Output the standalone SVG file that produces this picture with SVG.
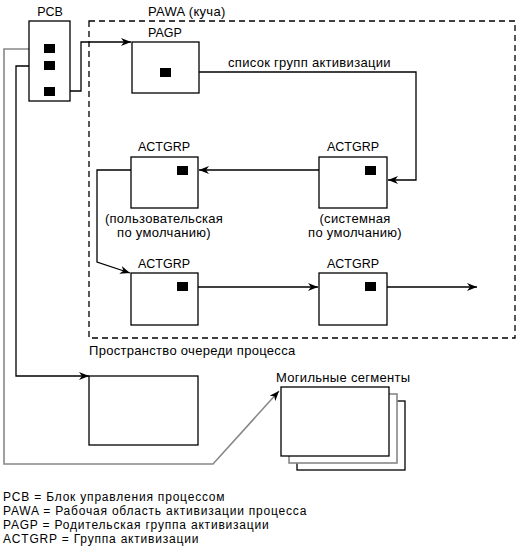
<svg xmlns="http://www.w3.org/2000/svg" width="521" height="555" viewBox="0 0 521 555">
<defs>
<marker id="arr" viewBox="0 0 10 8" refX="10" refY="4" markerWidth="10" markerHeight="8" markerUnits="userSpaceOnUse" orient="auto">
<path d="M0,0 L10,4 L0,8 L3,4 Z" fill="#000"/>
</marker>
</defs>
<style>
text{font-family:"Liberation Sans",Arial,sans-serif;font-size:13px;letter-spacing:0.3px;fill:#000}
.lat{font-size:12.5px;letter-spacing:0}
.leg{font-size:12px;letter-spacing:0.8px}
.box{fill:#fff;stroke:#000;stroke-width:1.3}
.sq{fill:#000}
.ln{fill:none;stroke:#000;stroke-width:1.3}
.gray{fill:none;stroke:#888;stroke-width:1.6}
.dash{fill:none;stroke:#000;stroke-width:1.3;stroke-dasharray:6,4}
</style>
<rect width="521" height="555" fill="#fff"/>

<g id="pawa">
<rect class="dash" x="89" y="21" width="426" height="317"/>
<text x="148" y="16">PAWA (куча)</text>
<text x="89" y="355">Пространство очереди процесса</text>
</g>

<g id="connectors">
<polyline class="gray" points="44,49 4,49 4,464 213,464 279,391" marker-end="url(#arr)"/>
<polyline class="ln" points="44,66 16,66 16,376 89,376" marker-end="url(#arr)"/>
<polyline class="ln" points="55,91 81,91 81,42 131,42" marker-end="url(#arr)"/>
<polyline class="ln" points="170,72 416,72 416,180 388,180" marker-end="url(#arr)"/>
<line class="ln" x1="365" y1="170" x2="199" y2="170" marker-end="url(#arr)"/>
<polyline class="ln" points="177,170 97,170 97,262 130,273" marker-end="url(#arr)"/>
<line class="ln" x1="188" y1="287" x2="318" y2="287" marker-end="url(#arr)"/>
<line class="ln" x1="376" y1="287" x2="477" y2="287" marker-end="url(#arr)"/>
</g>

<g id="pcb">
<rect class="box" x="29" y="21" width="41" height="80"/>
<text class="lat" x="50" y="16" text-anchor="middle">PCB</text>
<rect class="sq" x="44" y="44" width="11" height="9"/>
<rect class="sq" x="44" y="61" width="11" height="9"/>
<rect class="sq" x="44" y="87" width="11" height="9"/>
</g>

<g id="pagp">
<rect class="box" x="132" y="42" width="67" height="51"/>
<text class="lat" x="148" y="37">PAGP</text>
<rect class="sq" x="160" y="68" width="11" height="9"/>
<text x="228" y="67">список групп активизации</text>
</g>

<g id="actgrp-user">
<rect class="box" x="131" y="157" width="67" height="51"/>
<text class="lat" x="164" y="151" text-anchor="middle">ACTGRP</text>
<rect class="sq" x="177" y="166" width="11" height="9"/>
<text x="164" y="223" text-anchor="middle">(пользовательская</text>
<text x="164" y="237" text-anchor="middle">по умолчанию)</text>
</g>

<g id="actgrp-sys">
<rect class="box" x="319" y="157" width="68" height="51"/>
<text class="lat" x="353" y="151" text-anchor="middle">ACTGRP</text>
<rect class="sq" x="365" y="166" width="11" height="9"/>
<text x="355" y="223" text-anchor="middle">(системная</text>
<text x="355" y="237" text-anchor="middle">по умолчанию)</text>
</g>

<g id="actgrp-3">
<rect class="box" x="131" y="273" width="67" height="52"/>
<text class="lat" x="164" y="268" text-anchor="middle">ACTGRP</text>
<rect class="sq" x="177" y="282" width="11" height="9"/>
</g>

<g id="actgrp-4">
<rect class="box" x="319" y="273" width="68" height="52"/>
<text class="lat" x="353" y="268" text-anchor="middle">ACTGRP</text>
<rect class="sq" x="365" y="282" width="11" height="9"/>
</g>

<g id="block">
<rect class="box" x="89" y="376" width="109" height="69"/>
</g>

<g id="graves">
<rect class="box" x="297" y="401" width="108" height="69"/>
<rect x="289" y="394" width="108" height="69" fill="#fff" stroke="#888" stroke-width="1.6"/>
<rect class="box" x="281" y="387" width="108" height="69"/>
<text x="276" y="382">Могильные сегменты</text>
</g>

<g id="legend">
<text class="leg" x="3" y="501">PCB = Блок управления процессом</text>
<text class="leg" x="3" y="515">PAWA = Рабочая область активизации процесса</text>
<text class="leg" x="3" y="529">PAGP = Родительская группа активизации</text>
<text class="leg" x="3" y="543">ACTGRP = Группа активизации</text>
</g>
</svg>
